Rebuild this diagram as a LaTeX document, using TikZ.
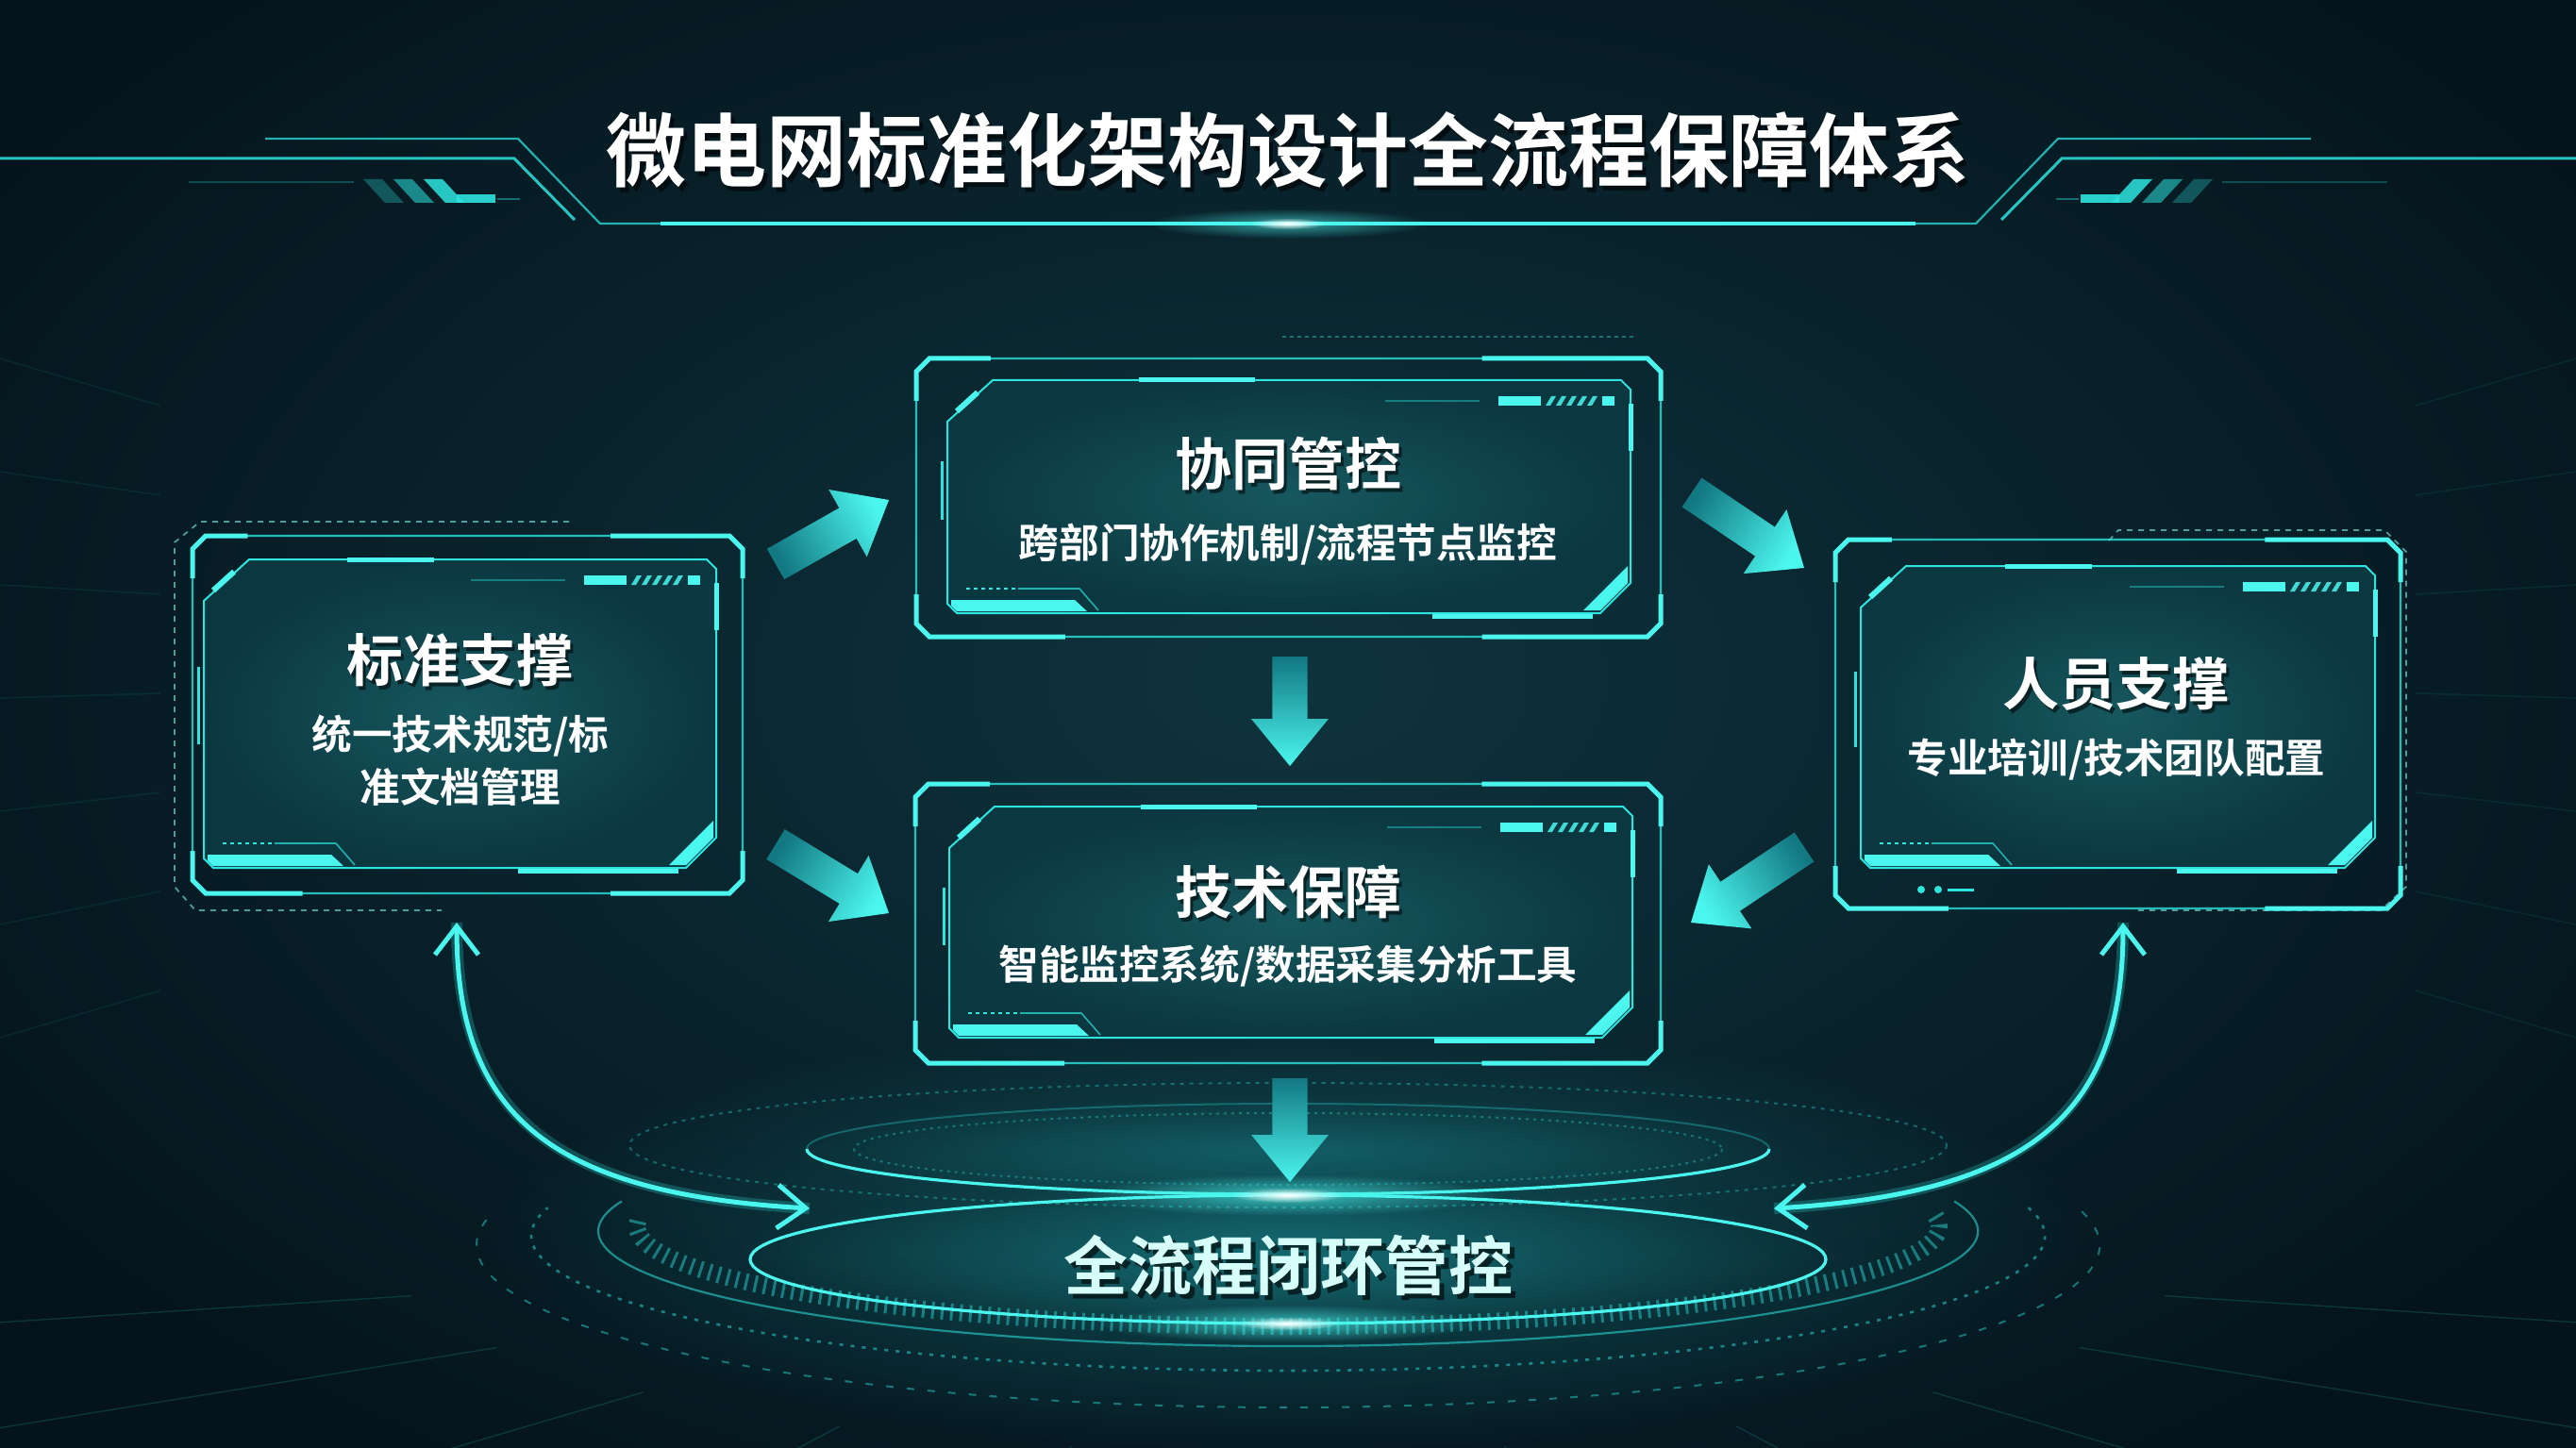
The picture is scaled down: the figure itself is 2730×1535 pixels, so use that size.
\documentclass[tikz,border=0pt]{standalone}
\usepackage{fontspec}
\newfontfamily\cjk{Noto Sans CJK SC Bold}
\usetikzlibrary{calc,arrows.meta,fadings,fit}
\definecolor{bgout}{RGB}{5,20,28}
\definecolor{bgin}{RGB}{15,52,62}
\definecolor{cy}{RGB}{45,228,222}
\definecolor{cyb}{RGB}{75,246,238}
\definecolor{cyt}{RGB}{18,120,130}
\definecolor{pmid}{RGB}{22,88,94}
\definecolor{pout}{RGB}{11,55,64}
\definecolor{glowc}{RGB}{30,165,170}
\definecolor{lbl}{RGB}{215,255,250}
\tikzfading[name=glowfade, inner color=transparent!0, outer color=transparent!100]

% box frame: #1 name, #2-#5 outer frame, #6-#9 panel
\newcommand\hudbox[9]{%
  \draw[thinf] ({#2+14},#3) -- ({#4-14},#3) -- (#4,{#3+14}) -- (#4,{#5-14}) -- ({#4-14},#5) -- ({#2+14},#5) -- (#2,{#5-14}) -- (#2,{#3+14}) -- cycle;
  \draw[thickf] ({#4-0.24*(#4-#2)},#3) -- ({#4-14},#3) -- (#4,{#3+14}) -- (#4,{#3+45});
  \draw[thickf] (#4,{#5-45}) -- (#4,{#5-14}) -- ({#4-14},#5) -- ({#4-0.24*(#4-#2)},#5);
  \draw[thickf] (#2,{#5-45}) -- (#2,{#5-14}) -- ({#2+14},#5) -- ({#2+0.2*(#4-#2)},#5);
  \draw[thickf] (#2,{#3+45}) -- (#2,{#3+14}) -- ({#2+14},#3) -- ({#2+0.1*(#4-#2)},#3);
  \shadedraw[inner color=pmid, outer color=pout, draw=cy, line width=1pt]
    ({#6+48},#7) -- ({#8-10},#7) -- (#8,{#7+10}) -- (#8,{#9-32}) -- ({#8-32},#9) -- ({#6+10},#9) -- (#6,{#9-10}) -- (#6,{#7+44}) -- cycle;
  \node[inner sep=0pt, fit={(#2,#3) (#4,#5)}] (#1) {};
  % accents
  \draw[cyb, line width=3pt] ({#6+10},{#7+33}) -- ({#6+32},{#7+13});
  \draw[cyb, line width=2.5pt] ({#6+0.28*(#8-#6)},#7) -- ({#6+0.45*(#8-#6)},#7);
  \fill[cyb] ({#8-140},{#7+17}) rectangle ({#8-95},{#7+27});
  \foreach \k in {0,...,4} {\fill[cyb, opacity=0.85] ({#8-90+11*\k},{#7+27}) -- ({#8-84+11*\k},{#7+17}) -- ({#8-79+11*\k},{#7+17}) -- ({#8-85+11*\k},{#7+27}) -- cycle;}
  \fill[cyb] ({#8-30},{#7+17}) rectangle ({#8-17},{#7+27});
  \draw[cy, opacity=0.4, line width=0.8pt] ({#8-260},{#7+22}) -- ({#8-160},{#7+22});
  \draw[cyb, line width=2.5pt] (#8,{#7+25}) -- (#8,{#7+75});
  \draw[cy, line width=1.5pt] ({#6-6},{#7+0.35*(#9-#7)}) -- ({#6-6},{#7+0.6*(#9-#7)});
  \fill[cyb] ({#6+4},{#9-14}) -- ({#6+135},{#9-14}) -- ({#6+148},{#9-2}) -- ({#6+10},{#9-2}) -- ({#6+4},{#9-8}) -- cycle;
  \draw[cy, line width=0.8pt, dash pattern=on 2pt off 2pt] ({#6+20},{#9-26}) -- ({#6+75},{#9-26});
  \draw[cy, line width=0.8pt, opacity=0.7] ({#6+75},{#9-26}) -- ({#6+140},{#9-26}) -- ({#6+160},{#9-3});
  \fill[cyb] ({#8-3},{#9-50}) -- ({#8-3},{#9-32}) -- ({#8-32},{#9-3}) -- ({#8-50},{#9-3}) -- cycle;
  \draw[cyb, line width=2.5pt] ({#8-210},{#9+3}) -- ({#8-40},{#9+3});
}

% block arrow: #1 start, #2 end, #3 shading angle
\newcommand\blockarrow[3]{%
  \coordinate (hb) at ($(#2)!25pt!(#1)$);
  \shade[top color=cyb, bottom color=cyt, shading angle=#3]
    ($(#1)!9.3pt!90:(#2)$) -- ($(hb)!9.3pt!90:(#2)$) -- ($(hb)!20.5pt!90:(#2)$) -- (#2)
    -- ($(hb)!20.5pt!-90:(#2)$) -- ($(hb)!9.3pt!-90:(#2)$) -- ($(#1)!9.3pt!-90:(#2)$) -- cycle;
}

\begin{document}
\begin{tikzpicture}[x=0.5pt,y=-0.5pt,
  thinf/.style={draw=cy, line width=1.1pt, opacity=0.8},
  thickf/.style={draw=cyb, line width=2.5pt},
  dashf/.style={draw=cy!60!white, line width=0.9pt, opacity=0.6, dash pattern=on 3pt off 3pt},
  curvearrow/.style={draw=cyb, line width=2.5pt, {Straight Barb[length=15pt,width=23pt]}-{Straight Barb[length=15pt,width=23pt]}},
  ttl/.style={text=white, font=\cjk\fontsize{42.5}{51}\selectfont, inner sep=0pt},
  bh/.style={text=white, font=\cjk\fontsize{30}{36}\selectfont, inner sep=0pt},
  bs/.style={text=white, font=\cjk\fontsize{21.3}{28}\selectfont, inner sep=0pt, align=center},
  shd/.style={text=black, opacity=0.55}]
\useasboundingbox (0,0) rectangle (2730,1535);
\clip (0,0) rectangle (2730,1535);

% background
\fill[bgout] (0,0) rectangle (2730,1535);
\fill[bgin, path fading=glowfade] (1365,720) ellipse (1650 and 1000);
\fill[glowc, opacity=0.35, path fading=glowfade] (1365,1310) ellipse (850 and 230);

% faint perspective lines
\foreach \a in {12,28,44,60,76,104,120,136,152,168}
  \draw[cy, opacity=0.16, line width=0.7pt] ({1365+950*cos(\a)},{1330+210*sin(\a)}) -- ({1365+2300*cos(\a)},{1330+620*sin(\a)});
\foreach \ya/\yb in {380/430,500/525,620/630,740/735,860/840,980/945,1100/1050}{
  \draw[cy, opacity=0.08, line width=0.8pt] (0,\ya) -- (170,\yb);
  \draw[cy, opacity=0.08, line width=0.8pt] (2730,\ya) -- (2560,\yb);}

% title frame
\draw[cy, line width=1.1pt, opacity=0.75] (281,147) -- (549,147) -- (636,237) -- (2094,237) -- (2181,147) -- (2449,147);
\draw[cy, line width=1.5pt, opacity=0.85] (0,168) -- (545,168) -- (609,233);
\draw[cy, line width=1.5pt, opacity=0.85] (2730,168) -- (2185,168) -- (2121,233);
\draw[cyb, line width=1.6pt] (700,237) -- (2030,237);
\foreach \k/\o in {0/0.3,1/0.55,2/0.85}{
  \fill[cy, opacity=\o] ({385+32*\k},190) -- ({405+32*\k},190) -- ({428+32*\k},215) -- ({408+32*\k},215) -- cycle;
  \fill[cy, opacity=\o] ({2345-32*\k},190) -- ({2325-32*\k},190) -- ({2302-32*\k},215) -- ({2322-32*\k},215) -- cycle;}
\fill[cy, opacity=0.9] (484,206) rectangle (525,215);
\fill[cy, opacity=0.9] (2246,206) rectangle (2205,215);
\draw[cy, opacity=0.4, line width=0.6pt] (527,211) -- (551,211);
\draw[cy, opacity=0.4, line width=0.6pt] (2203,211) -- (2179,211);
\draw[cy, opacity=0.25, line width=1pt] (200,193) -- (375,193);
\draw[cy, opacity=0.25, line width=1pt] (2530,193) -- (2355,193);
\fill[cyb, opacity=0.6, path fading=glowfade] (1365,237) ellipse (150 and 16);
\fill[white, path fading=glowfade] (1365,237) ellipse (40 and 6);

% title
\node[ttl, shd] (ttls) at (1369,164) {微电网标准化架构设计全流程保障体系};
\node[ttl] (ttl) at (1365,159) {微电网标准化架构设计全流程保障体系};

% bottom rings
\draw[cy, opacity=0.35, line width=1pt, dash pattern=on 2pt off 3pt] (1365,1214) ellipse (698 and 66);
\fill[glowc, opacity=0.3, path fading=glowfade] (1365,1218) ellipse (540 and 55);
\draw[cy, opacity=0.3, line width=1pt] (1365,1218) ellipse (510 and 48);
\draw[cy, opacity=0.35, line width=1pt, dash pattern=on 1.5pt off 2.5pt] (1365,1218) ellipse (460 and 38);
\draw[cyb, line width=1.6pt] (1875,1218) arc[start angle=0, end angle=180, x radius=510, y radius=48];
\draw[cy, opacity=0.45, line width=1pt, dash pattern=on 4pt off 7pt] ({1365+860*cos(-12)},{1320+172*sin(-12)}) arc[start angle=-12, end angle=192, x radius=860, y radius=172];
\draw[cy, opacity=0.5, line width=1.3pt, dash pattern=on 2pt off 4pt] ({1365+802*cos(-12)},{1310+143*sin(-12)}) arc[start angle=-12, end angle=192, x radius=802, y radius=143];
\draw[cy, opacity=0.55, line width=1.1pt] ({1365+731*cos(-15)},{1305+122*sin(-15)}) arc[start angle=-15, end angle=195, x radius=731, y radius=122];
\draw[cy, opacity=0.45, line width=9pt, dash pattern=on 1.5pt off 3.5pt] ({1365+690*cos(-6)},{1300+106*sin(-6)}) arc[start angle=-6, end angle=186, x radius=690, y radius=106];
\fill[glowc, opacity=0.35, path fading=glowfade] (1365,1335) ellipse (600 and 80);
\draw[cyb, line width=1.6pt] (1365,1335) ellipse (570 and 68);
\fill[cyb, opacity=0.7, path fading=glowfade] (1365,1267) ellipse (220 and 22);
\fill[white, path fading=glowfade] (1365,1267) ellipse (60 and 8);
\fill[cyb, opacity=0.7, path fading=glowfade] (1365,1403) ellipse (200 and 20);
\fill[white, path fading=glowfade] (1365,1403) ellipse (55 and 7);

% boxes
\draw[cy, opacity=0.4, line width=0.9pt, dash pattern=on 2pt off 2pt] (1359,357) -- (1733,357);
\draw[dashf] (603,553) -- (212,553) -- (185,575) -- (185,940) -- (207,965) -- (468,965);
\draw[dashf] (2235,573) -- (2245,562) -- (2527,562) -- (2550,585) -- (2550,940) -- (2523,965) -- (2264,965);
\fill[cy] (2036,943) circle (4);
\fill[cy] (2054,943) circle (4);
\draw[cy, line width=1.5pt] (2064,943) -- (2092,943);

\hudbox{bL}{204}{568}{787}{947}{216}{593}{759}{920}
\hudbox{bT}{971}{380}{1760}{675}{1004}{403}{1728}{650}
\hudbox{bM}{970}{831}{1760}{1127}{1006}{855}{1730}{1100}
\hudbox{bR}{1945}{572}{2544}{963}{1972}{600}{2517}{920}

% texts in boxes
\node[bh, shd] (tTs) at (1368,496) {协同管控};
\node[bh] (tT) at (1365,492) {协同管控};
\node[bs] (tT2) at (1365,577) {跨部门协作机制/流程节点监控};
\node[bh, shd] (tMs) at (1368,949) {技术保障};
\node[bh] (tM) at (1365,945) {技术保障};
\node[bs] (tM2) at (1365,1024) {智能监控系统/数据采集分析工具};
\node[bh, shd] (tLs) at (490,704) {标准支撑};
\node[bh] (tL) at (487,700) {标准支撑};
\node[bs] (tL2) at (488,806) {统一技术规范/标\\准文档管理};
\node[bh, shd] (tRs) at (2245,729) {人员支撑};
\node[bh] (tR) at (2242,725) {人员支撑};
\node[bs] (tR2) at (2243,805) {专业培训/技术团队配置};

% bottom label
\node[text=black, opacity=0.6, font=\cjk\fontsize{34}{40}\selectfont, inner sep=0pt] (tBs) at (1370,1346) {全流程闭环管控};
\node[text=lbl, font=\cjk\fontsize{34}{40}\selectfont, inner sep=0pt] (tB) at (1365,1341) {全流程闭环管控};

% block arrows
\coordinate (a1s) at (822,598);  \coordinate (a1e) at (942,530);
\coordinate (a2s) at (1793,522); \coordinate (a2e) at (1912,602);
\coordinate (a3s) at (1367,696); \coordinate (a3e) at (1367,812);
\coordinate (a4s) at (822,895);  \coordinate (a4e) at (942,968);
\coordinate (a5s) at (1912,898); \coordinate (a5e) at (1792,978);
\coordinate (a6s) at (1367,1143); \coordinate (a6e) at (1367,1253);
\blockarrow{a1s}{a1e}{-60}
\blockarrow{a2s}{a2e}{-122}
\blockarrow{a3s}{a3e}{180}
\blockarrow{a4s}{a4e}{-122}
\blockarrow{a5s}{a5e}{123}
\blockarrow{a6s}{a6e}{180}

% curved double arrows
\coordinate (cL1) at (484,978); \coordinate (cL2) at (858,1281);
\coordinate (cR1) at (2250,978); \coordinate (cR2) at (1880,1281);
\draw[cy, opacity=0.25, line width=6pt] (cL1) .. controls (484,1180) and (580,1265) .. (cL2);
\draw[cy, opacity=0.25, line width=6pt] (cR1) .. controls (2250,1180) and (2154,1265) .. (cR2);
\draw[curvearrow] (cL1) .. controls (484,1180) and (580,1265) .. (cL2);
\draw[curvearrow] (cR1) .. controls (2250,1180) and (2154,1265) .. (cR2);
\end{tikzpicture}
\end{document}
